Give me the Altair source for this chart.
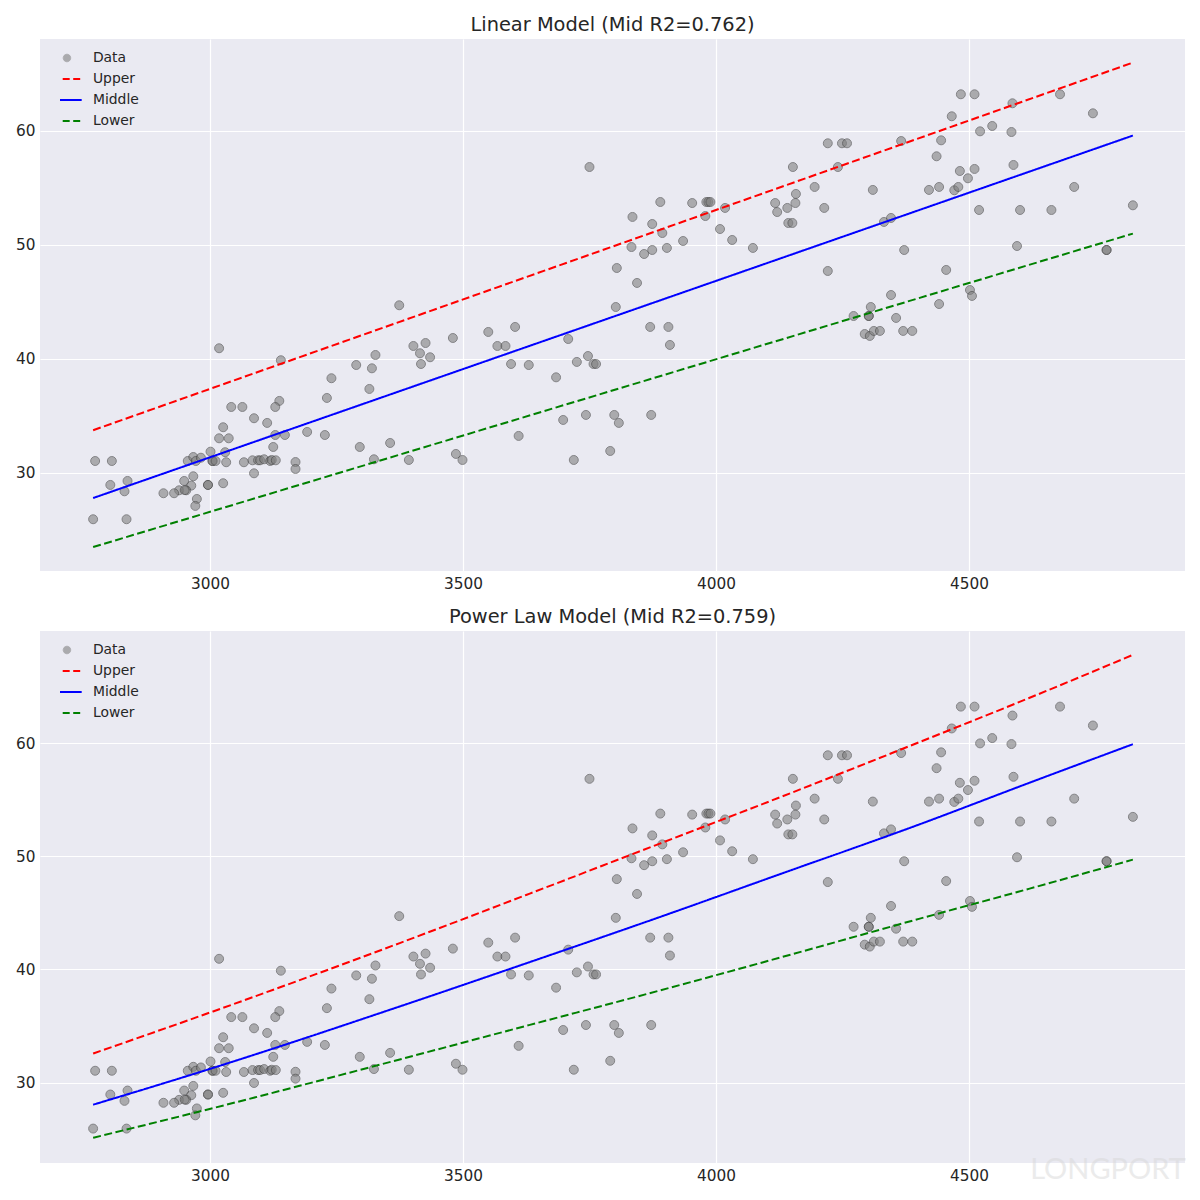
import altair as alt
import pandas as pd

# ---------------- data ----------------
data_x = [3018, 3140, 3240, 3231, 3042, 3064, 3137, 3129, 3087, 3113,
          3026, 3018, 3037, 3129, 3148, 3192, 3227, 3125, 3001, 3030,
          2773, 2806, 2956, 2967, 2972, 2982, 3005, 3005, 3011, 3032,
          3067, 3084, 3095, 3099, 3107, 3119, 3122, 3130, 3169, 3169,
          3087, 2967, 2949, 2837, 2803, 2831, 2963, 2939, 2953, 2950,
          2996, 2996, 3026, 2908, 2929, 2974, 2971, 2769, 2835,
          3374, 3603, 3550, 3480, 3402, 3426, 3415, 3435, 3417, 3327,
          3289, 3320, 3315, 3568, 3584, 3595, 3630, 3708, 3725, 3747,
          3758, 3763, 3684, 3698, 3743, 3610, 3296, 3356, 3324, 3393,
          3486, 3499, 3719, 3791,
          3750, 3890, 3953, 3981, 3985, 3989, 3979, 4018, 4008, 4032,
          4073, 4117, 4121, 3835, 3874, 3894, 3935, 3833, 3858, 3874,
          3903, 3804, 3844, 3802, 3870, 3906, 3909, 3799, 3808, 3872,
          4221, 4249, 4259, 4366, 4152, 4241, 4436, 4195, 4158, 4310,
          4421, 4441, 4141, 4157, 4214, 4143, 4151, 4332, 4346, 4372,
          4221, 4346, 4306, 4272, 4302, 4302, 4356, 4441, 4294, 4304,
          4312, 4324, 4370, 4388,
          4484, 4511, 4680, 4586, 4466, 4745, 4522, 4546, 4584, 4445,
          4482, 4511, 4498, 4588, 4471, 4479, 4520, 4601, 4663, 4708,
          4824, 4595, 4772, 4772, 4455, 4502, 4506]

data_y = [40.94, 39.89, 38.31, 36.58, 35.79, 35.79, 36.32, 35.79, 34.80, 34.39,
          34.01, 33.04, 33.04, 33.33, 33.33, 33.60, 33.33, 32.28, 31.87, 31.82,
          31.05, 31.05, 31.05, 31.40, 31.05, 31.34, 31.05, 31.05, 31.05, 30.94,
          30.94, 31.11, 31.11, 31.11, 31.20, 31.05, 31.14, 31.11, 30.96, 30.35,
          29.97, 29.71, 29.30, 29.30, 28.95, 28.39, 28.89, 28.48, 28.48, 28.50,
          28.95, 28.95, 29.10, 28.22, 28.22, 27.72, 27.11, 25.94, 25.94,
          44.71, 42.81, 42.37, 41.84, 41.14, 41.40, 40.50, 40.15, 39.56, 40.35,
          39.47, 39.18, 37.37, 41.14, 41.14, 39.56, 39.47, 41.75, 39.74, 40.26,
          39.56, 39.56, 38.39, 34.65, 35.09, 33.25, 32.28, 32.63, 31.20, 31.14,
          31.67, 31.14, 31.14, 31.93,
          56.84, 53.77, 53.68, 53.77, 53.77, 53.77, 52.54, 53.25, 51.40, 50.44,
          49.74, 53.68, 52.89, 52.46, 51.84, 51.05, 50.35, 49.82, 49.21, 49.56,
          49.74, 47.98, 46.67, 44.56, 42.81, 42.81, 41.23, 35.09, 34.39, 35.09,
          58.92, 58.92, 58.92, 59.12, 56.84, 56.84, 57.78, 55.09, 54.48, 54.83,
          54.83, 55.09, 53.25, 53.68, 53.25, 51.93, 51.93, 52.02, 52.37, 49.56,
          47.72, 45.61, 44.56, 43.77, 43.77, 43.77, 43.60, 44.82, 42.19, 42.02,
          42.46, 42.46, 42.46, 42.46,
          63.22, 63.22, 63.22, 62.43, 61.29, 61.55, 59.97, 60.44, 59.91, 59.18,
          56.49, 56.67, 55.85, 57.02, 54.80, 55.09, 53.07, 53.07, 53.07, 55.09,
          53.48, 49.91, 49.56, 49.56, 47.81, 46.05, 45.53]

# linear model lines
lin_x = [2769, 4824]
lin_upper = [33.75, 66.0]
lin_middle = [27.8, 59.6]
lin_lower = [23.5, 51.0]

# power law model lines (read at several x positions)
pow_x = [2769, 3006, 3375, 3632, 3889, 4126, 4403, 4620, 4824]
pow_upper = [32.57, 36.29, 42.33, 46.70, 51.12, 55.20, 60.10, 64.00, 67.79]
pow_middle = [28.05, 31.30, 36.73, 40.65, 44.63, 48.41, 52.83, 56.50, 59.90]
pow_lower = [25.13, 27.75, 32.05, 35.10, 38.14, 41.04, 44.49, 47.14, 49.70]

titles = ["Linear Model (Mid R2=0.762)", "Power Law Model (Mid R2=0.759)"]
series_names = ["Data", "Upper", "Middle", "Lower"]
series_colors = ["gray", "red", "blue", "#008000"]
x_ticks = [3000, 3500, 4000, 4500]
y_ticks = [30, 40, 50, 60]

FONT = "DejaVu Sans"
TXT = "#262626"

IS_DATA = "datum.label === 'Data'"


def make_legend():
    return alt.Legend(
        title=None, orient="none", legendX=20, legendY=12, padding=0,
        clipHeight=14, rowPadding=7, labelOffset=19,
        labelFontSize=13.9, labelFont=FONT, labelColor=TXT,
        symbolType={"expr": f"{IS_DATA} ? 'circle' : 'stroke'"},
        symbolSize={"expr": f"{IS_DATA} ? 55 : 870"},
        symbolFillColor={"expr": f"{IS_DATA} ? 'gray' : 'transparent'"},
        symbolStrokeColor={"expr": "datum.label === 'Upper' ? 'red' : datum.label === 'Middle' ? 'blue' : datum.label === 'Lower' ? '#008000' : '#555555'"},
        symbolStrokeWidth={"expr": f"{IS_DATA} ? 1 : 2"},
        symbolDash={"expr": "(datum.label === 'Upper' || datum.label === 'Lower') ? [7, 3.5] : [1, 0]"},
        symbolOpacity={"expr": f"{IS_DATA} ? 0.6 : 1"},
    )


def make_panel(title, lx, up, mid, lo, ydom, interp):
    df_pts = pd.DataFrame({"x": data_x, "y": data_y, "series": ["Data"] * len(data_x)})
    rows = []
    for name, vals in (("Upper", up), ("Middle", mid), ("Lower", lo)):
        for xv, yv in zip(lx, vals):
            rows.append({"x": xv, "y": yv, "series": name})
    df_lines = pd.DataFrame(rows)

    x_enc = alt.X("x:Q", scale=alt.Scale(domain=[2664, 4927], nice=False, zero=False),
                  axis=alt.Axis(values=x_ticks, title=None, format="d"))
    y_enc = alt.Y("y:Q", scale=alt.Scale(domain=ydom, nice=False, zero=False),
                  axis=alt.Axis(values=y_ticks, title=None, format="d"))
    color = alt.Color("series:N",
                      scale=alt.Scale(domain=series_names, range=series_colors),
                      legend=make_legend())

    pts = alt.Chart(df_pts).mark_circle(size=80, opacity=0.6, stroke="#404040",
                                        strokeWidth=1).encode(x=x_enc, y=y_enc, color=color)
    lines = alt.Chart(df_lines).mark_line(strokeWidth=2, interpolate=interp).encode(
        x=x_enc, y=y_enc, color=color,
        strokeDash=alt.StrokeDash("series:N",
                                  scale=alt.Scale(domain=["Upper", "Middle", "Lower"],
                                                  range=[[8, 3.5], [1, 0], [8, 3.5]]),
                                  legend=None))
    return alt.layer(pts, lines).properties(
        width=1145, height=532,
        title=alt.Title(title, fontSize=19.4, font=FONT, fontWeight="normal", color=TXT,
                        offset=4, anchor="middle"))


top = make_panel(titles[0], lin_x, lin_upper, lin_middle, lin_lower, [21.4, 68.07], "linear")
bottom_base = make_panel(titles[1], pow_x, pow_upper, pow_middle, pow_lower, [22.9, 69.9],
                         "monotone")

wm = alt.Chart(pd.DataFrame({"t": ["LONGPORT"]})).mark_text(
    font="Lato", fontSize=29, color="#d8d8d8", opacity=0.5, align="center", baseline="middle"
).encode(x=alt.value(1068), y=alt.value(539), text="t:N")
bottom = alt.layer(bottom_base, wm)

chart = alt.vconcat(top, bottom, spacing=14).resolve_scale(
    color="independent", strokeDash="independent"
).resolve_legend(color="independent", strokeDash="independent").properties(
    padding={"left": 7, "top": 6, "right": 5, "bottom": 5},
    background="white",
).configure_view(fill="#EAEAF2", stroke=None).configure_axis(
    grid=True, gridColor="white", gridWidth=1.2, domain=False, ticks=False,
    labelPadding=5, labelFont=FONT, labelFontSize=15.3, labelColor=TXT
)

chart.save("out.html", embed_options={"renderer": "svg", "actions": False})
